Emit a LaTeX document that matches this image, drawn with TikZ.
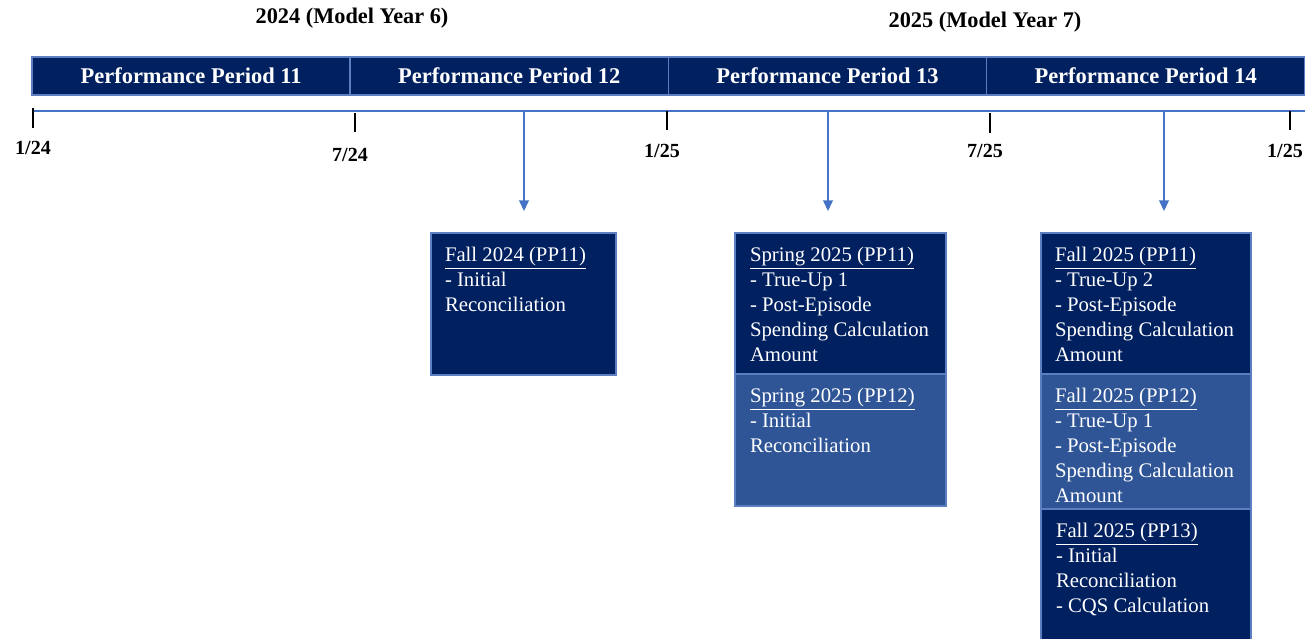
\documentclass[tikz,border=0pt]{standalone}
\usepackage{fontspec}
\setmainfont{Liberation Serif}
\usetikzlibrary{positioning,arrows.meta}
\definecolor{navy}{HTML}{002060}
\definecolor{midblue}{HTML}{2F5597}
\definecolor{edgeblue}{HTML}{5B7FC0}
\definecolor{lineblue}{HTML}{4472C4}

\begin{document}
\begin{tikzpicture}[
x=0.02cm, y=-0.02cm,
every node/.style={inner sep=0pt, outer sep=0pt},
period/.style={rectangle, draw=edgeblue, line width=0.8pt, fill=navy, text=white,
        minimum width=6.365cm, minimum height=0.76cm, font=\fontsize{12.8}{15}\selectfont\bfseries},
year/.style={font=\fontsize{12.7}{15}\selectfont\bfseries},
date/.style={font=\fontsize{11.4}{13}\selectfont\bfseries},
tick/.style={line width=1.1pt},
arr/.style={draw=lineblue, line width=0.8pt, -{Triangle[width=5.5pt,length=6pt]}},
box/.style={rectangle, draw=edgeblue, line width=0.7pt, fill=navy, anchor=north west},
boxtext/.style={anchor=north west, text=white, align=left, font=\fontsize{11.8}{14.2}\selectfont}
]
  \useasboundingbox (0,0) rectangle (1312,639);

  % years
  \node[year] (y24) at (352,18) {2024 (Model Year 6)};
  \node[year] (y25) at (985,22) {2025 (Model Year 7)};

  % performance periods
  \node[period, anchor=north west] (pp11) at (32,57) {Performance Period 11};
  \node[period, right=0pt of pp11] (pp12) {Performance Period 12};
  \node[period, right=0pt of pp12] (pp13) {Performance Period 13};
  \node[period, right=0pt of pp13] (pp14) {Performance Period 14};

  % time line
  \coordinate (tl0) at (32,111);
  \coordinate (tl1) at (1305,111);
  \draw[lineblue, line width=0.9pt] (tl0) -- (tl1);

  \draw[tick] (33,108) -- (33,128);
  \draw[tick] (355,113) -- (355,132);
  \draw[tick] (667,111) -- (667,130);
  \draw[tick] (990,113) -- (990,133);
  \draw[tick] (1290,111) -- (1290,130);
  \node[date] (d1) at (33,148) {1/24};
  \node[date] (d2) at (350,155) {7/24};
  \node[date] (d3) at (662,151) {1/25};
  \node[date] (d4) at (985,151) {7/25};
  \node[date] (d5) at (1285,151) {1/25};

  % reconciliations
  \node[box, minimum width=3.7cm, minimum height=2.84cm] (fall24) at (431,233) {};
  \node[boxtext, below right=0.28cm and 0.28cm of fall24.north west] (fall24txt)
      {\underline{Fall 2024 (PP11)}\\- Initial\\Reconciliation};

  \node[box, minimum width=4.22cm, minimum height=2.82cm] (spr11) at (735,233) {};
  \node[box, fill=midblue, minimum width=4.22cm, minimum height=2.64cm, below=0pt of spr11] (spr12) {};
  \node[boxtext, below right=0.28cm and 0.3cm of spr11.north west] (spr11txt)
      {\underline{Spring 2025 (PP11)}\\- True-Up 1\\- Post-Episode\\Spending Calculation\\Amount};
  \node[boxtext, below right=0.28cm and 0.3cm of spr12.north west] (spr12txt)
      {\underline{Spring 2025 (PP12)}\\- Initial\\Reconciliation};

  \node[box, minimum width=4.2cm, minimum height=2.82cm] (fal11) at (1041,233) {};
  \node[box, fill=midblue, minimum width=4.2cm, minimum height=2.7cm, below=0pt of fal11] (fal12) {};
  \node[box, minimum width=4.2cm, minimum height=3.2cm, below=0pt of fal12] (fal13) {};
  \node[boxtext, below right=0.28cm and 0.28cm of fal11.north west] (fal11txt)
      {\underline{Fall 2025 (PP11)}\\- True-Up 2\\- Post-Episode\\Spending Calculation\\Amount};
  \node[boxtext, below right=0.28cm and 0.28cm of fal12.north west] (fal12txt)
      {\underline{Fall 2025 (PP12)}\\- True-Up 1\\- Post-Episode\\Spending Calculation\\Amount};
  \node[boxtext, below right=0.28cm and 0.3cm of fal13.north west] (fal13txt)
      {\underline{Fall 2025 (PP13)}\\- Initial\\Reconciliation\\- CQS Calculation};

  % arrows
  \coordinate (a1s) at (524,111);
  \coordinate (a1e) at (524,211);
  \coordinate (a2s) at (828,111);
  \coordinate (a2e) at (828,211);
  \coordinate (a3s) at (1164,111);
  \coordinate (a3e) at (1164,211);
  \draw[arr] (a1s) -- (a1e);
  \draw[arr] (a2s) -- (a2e);
  \draw[arr] (a3s) -- (a3e);
\end{tikzpicture}
\end{document}
